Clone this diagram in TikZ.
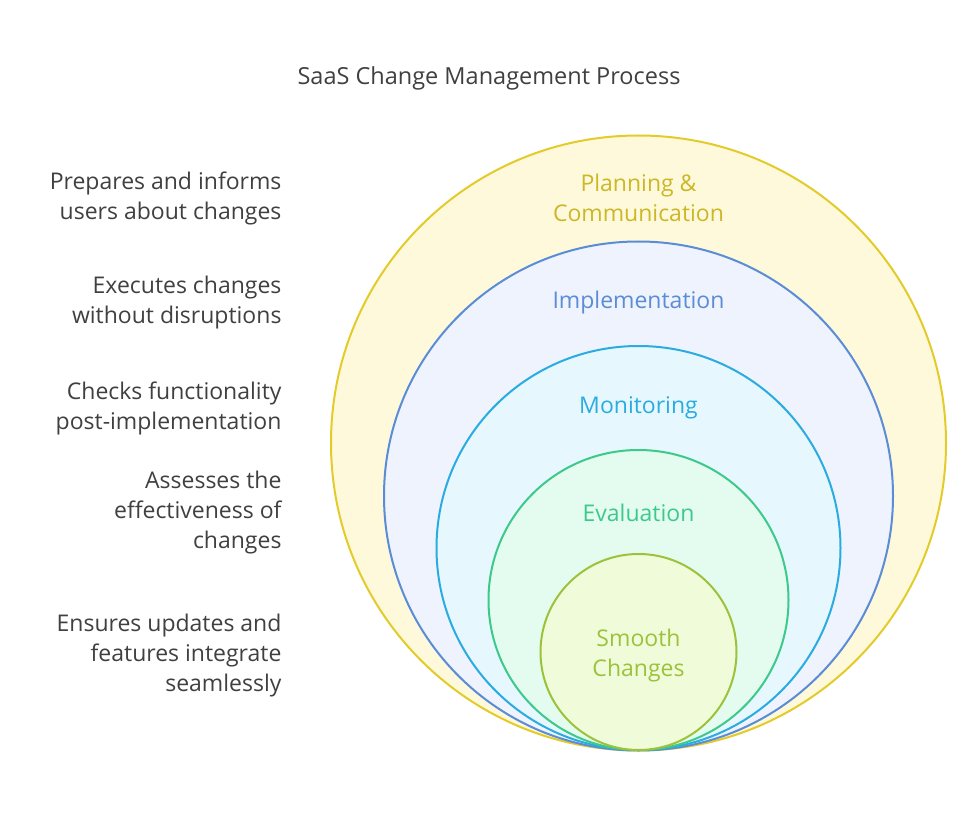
\documentclass[tikz,border=0pt]{standalone}
\usepackage{fontspec}
\setmainfont{Open Sans}
\begin{document}
\begin{tikzpicture}[x=1pt,y=-1pt,
  ring/.style={line width=2pt},
  lab/.style={font=\fontsize{23}{30}\selectfont,align=center},
  desc/.style={font=\fontsize{23}{30}\selectfont,align=right,anchor=east,text=black!75}]
\definecolor{yS}{HTML}{E3CB2B}\definecolor{yF}{HTML}{FEF9DB}
\definecolor{bS}{HTML}{5B8CD6}\definecolor{bF}{HTML}{EEF3FD}
\definecolor{cS}{HTML}{2AACE0}\definecolor{cF}{HTML}{E6F7FD}
\definecolor{gS}{HTML}{3DC98B}\definecolor{gF}{HTML}{E3FCEF}
\definecolor{lS}{HTML}{9CC23B}\definecolor{lF}{HTML}{F0FCD9}
\useasboundingbox[fill=white] (0,0) rectangle (978,813);
\node[font=\fontsize{23.5}{28}\selectfont,text=black!75] (title) at (489,78) {SaaS Change Management Process};
\draw[ring,draw=yS,fill=yF] (638.5,443) circle (307.5);
\draw[ring,draw=bS,fill=bF] (638.5,496) circle (254.5);
\draw[ring,draw=cS,fill=cF] (638.5,548) circle (202);
\draw[ring,draw=gS,fill=gF] (638.5,600) circle (150);
\draw[ring,draw=lS,fill=lF] (638.5,652) circle (98);
\node[lab,text=yS!90!black] (p) at (638.5,198) {Planning \&\\Communication};
\node[lab,text=bS] (i) at (638.5,303) {Implementation};
\node[lab,text=cS] (m) at (638.5,408) {Monitoring};
\node[lab,text=gS] (e) at (638.5,513) {Evaluation};
\node[lab,text=lS] (s) at (638.5,656) {Smooth\\Changes};
\node[desc] (d1) at (285,198) {Prepares and informs\\users about changes};
\node[desc] (d2) at (285,303) {Executes changes\\without disruptions};
\node[desc] (d3) at (285,408) {Checks functionality\\post-implementation};
\node[desc] (d4) at (285,513) {Assesses the\\effectiveness of\\changes};
\node[desc] (d5) at (285,656) {Ensures updates and\\features integrate\\seamlessly};
\end{tikzpicture}
\end{document}
